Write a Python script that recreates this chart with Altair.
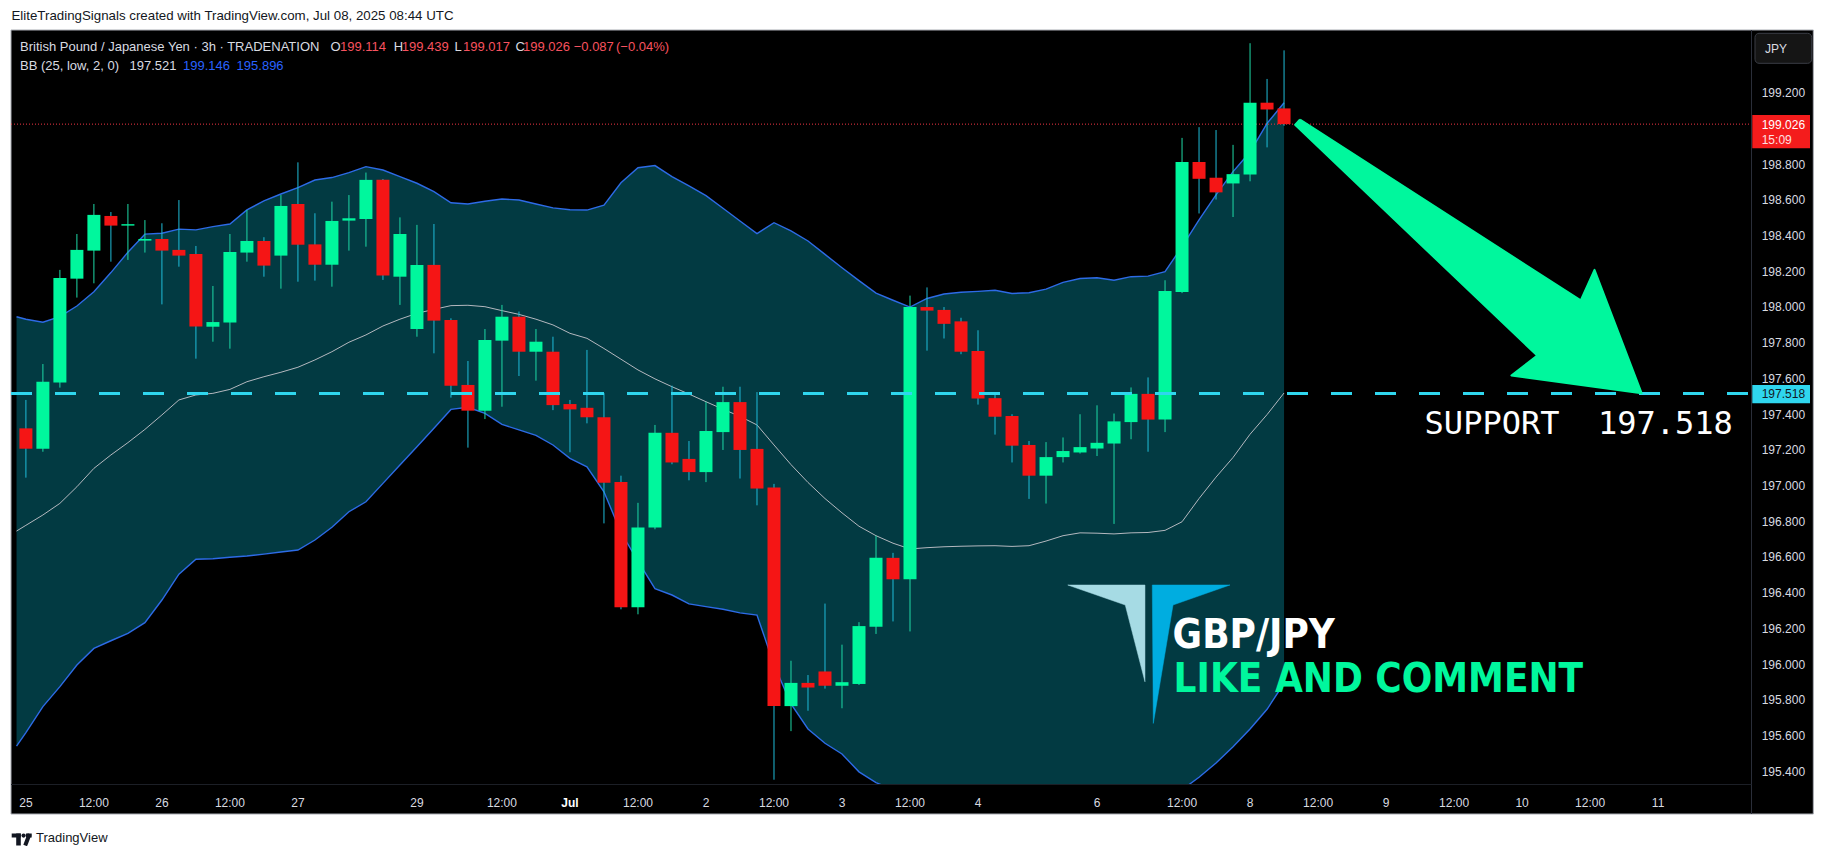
import altair as alt
import pandas as pd

# ---------------- data ----------------
bar_index = list(range(75))
opens = [197.323, 197.209, 197.579, 198.161, 198.318, 198.512, 198.458, 198.374, 198.383, 198.322,
         198.299, 197.892, 197.915, 198.307, 198.372, 198.290, 198.579, 198.353, 198.239, 198.486,
         198.495, 198.714, 198.172, 197.879, 198.238, 197.930, 197.566, 197.422, 197.814, 197.948,
         197.752, 197.752, 197.459, 197.438, 197.385, 197.022, 196.322, 196.768, 197.298, 197.152,
         197.078, 197.302, 197.470, 197.208, 196.992, 195.768, 195.898, 195.962, 195.882, 195.892,
         196.212, 196.598, 196.478, 198.002, 197.986, 197.922, 197.756, 197.492, 197.392, 197.230,
         197.058, 197.162, 197.188, 197.210, 197.238, 197.358, 197.516, 197.372, 198.086, 198.814,
         198.726, 198.694, 198.744, 199.146, 199.114]
highs = [197.482, 197.683, 198.210, 198.411, 198.579, 198.534, 198.579, 198.489, 198.471, 198.601,
         198.344, 198.120, 198.411, 198.545, 198.393, 198.629, 198.812, 198.527, 198.592, 198.629,
         198.755, 198.719, 198.504, 198.462, 198.467, 197.939, 197.700, 197.879, 198.014, 197.977,
         197.879, 197.836, 197.482, 197.762, 197.520, 197.058, 196.906, 197.342, 197.562, 197.252,
         197.472, 197.556, 197.556, 197.526, 197.012, 196.022, 195.942, 196.342, 196.112, 196.238,
         196.722, 196.626, 198.066, 198.112, 198.002, 197.942, 197.872, 197.526, 197.402, 197.252,
         197.246, 197.272, 197.402, 197.452, 197.406, 197.552, 197.608, 198.152, 198.949, 199.009,
         198.993, 198.910, 199.479, 199.279, 199.439]
lows = [197.047, 197.192, 197.551, 198.055, 198.135, 198.256, 198.266, 198.307, 198.017, 198.228,
        197.713, 197.808, 197.769, 198.256, 198.172, 198.105, 198.144, 198.150, 198.116, 198.318,
        198.340, 198.154, 198.014, 197.836, 197.743, 197.495, 197.215, 197.375, 197.444, 197.616,
        197.590, 197.425, 197.189, 197.351, 196.791, 196.310, 196.282, 196.758, 197.122, 197.032,
        197.022, 197.202, 197.042, 196.892, 195.356, 195.628, 195.742, 195.866, 195.756, 195.886,
        196.172, 196.242, 196.186, 197.758, 197.826, 197.738, 197.456, 197.288, 197.132, 196.928,
        196.902, 197.132, 197.182, 197.168, 196.788, 197.262, 197.192, 197.302, 198.080, 198.526,
        198.604, 198.506, 198.706, 198.896, 199.017]
closes = [197.209, 197.584, 198.165, 198.322, 198.518, 198.458, 198.466, 198.383, 198.318, 198.290,
          197.893, 197.918, 198.310, 198.372, 198.234, 198.568, 198.351, 198.239, 198.484, 198.499,
          198.714, 198.178, 198.411, 198.238, 197.926, 197.562, 197.422, 197.818, 197.948, 197.752,
          197.808, 197.453, 197.429, 197.385, 197.019, 196.322, 196.768, 197.298, 197.132, 197.078,
          197.308, 197.470, 197.202, 196.986, 195.768, 195.898, 195.872, 195.882, 195.902, 196.216,
          196.598, 196.478, 198.002, 197.982, 197.908, 197.752, 197.490, 197.388, 197.226, 197.058,
          197.162, 197.196, 197.218, 197.242, 197.362, 197.516, 197.372, 198.092, 198.814, 198.720,
          198.644, 198.746, 199.146, 199.108, 199.026]

band_index = [-0.55] + list(range(75))
bb_upper = [197.948, 197.934, 197.917, 197.948, 198.008, 198.088, 198.195, 198.309, 198.410, 198.415, 198.438,
            198.434, 198.452, 198.467, 198.546, 198.596, 198.635, 198.671, 198.713, 198.727, 198.755,
            198.788, 198.769, 198.732, 198.695, 198.648, 198.586, 198.579, 198.594, 198.607, 198.601,
            198.579, 198.557, 198.547, 198.545, 198.573, 198.698, 198.782, 198.794, 198.732, 198.680,
            198.626, 198.555, 198.484, 198.413, 198.474, 198.428, 198.372, 198.297, 198.222, 198.150,
            198.080, 198.040, 198.002, 198.050, 198.075, 198.085, 198.090, 198.096, 198.078, 198.082,
            198.102, 198.140, 198.162, 198.166, 198.152, 198.172, 198.175, 198.200, 198.340, 198.490,
            198.630, 198.760, 198.870, 199.030, 199.146]
bb_mid = [196.748, 196.780, 196.838, 196.903, 196.996, 197.099, 197.174, 197.243, 197.317, 197.398, 197.482,
          197.510, 197.519, 197.541, 197.584, 197.612, 197.637, 197.665, 197.706, 197.752, 197.805,
          197.846, 197.896, 197.934, 197.967, 197.989, 198.010, 198.012, 198.004, 197.982, 197.961,
          197.934, 197.902, 197.855, 197.827, 197.770, 197.710, 197.650, 197.600, 197.556, 197.515,
          197.472, 197.430, 197.390, 197.342, 197.230, 197.120, 197.020, 196.930, 196.850, 196.775,
          196.722, 196.680, 196.648, 196.655, 196.660, 196.663, 196.665, 196.666, 196.662, 196.666,
          196.692, 196.722, 196.738, 196.736, 196.732, 196.738, 196.740, 196.752, 196.800, 196.930,
          197.050, 197.160, 197.290, 197.400, 197.521]
bb_lower = [195.544, 195.620, 195.765, 195.877, 195.998, 196.091, 196.134, 196.175, 196.235, 196.362, 196.507,
            196.590, 196.593, 196.601, 196.608, 196.619, 196.631, 196.642, 196.698, 196.769, 196.856,
            196.912, 197.015, 197.118, 197.220, 197.323, 197.429, 197.441, 197.407, 197.345, 197.314,
            197.284, 197.230, 197.155, 197.108, 196.968, 196.740, 196.580, 196.426, 196.390, 196.340,
            196.325, 196.310, 196.290, 196.278, 196.000, 195.780, 195.640, 195.560, 195.500, 195.400,
            195.340, 195.300, 195.260, 195.220, 195.200, 195.180, 195.170, 195.160, 195.160, 195.170,
            195.180, 195.190, 195.200, 195.210, 195.220, 195.230, 195.250, 195.270, 195.300, 195.370,
            195.450, 195.540, 195.640, 195.750, 195.896]

last_price = 199.026
support_price = 197.518

# 199.000 is hidden behind the last-price box in the reference
price_ticks = [199.2, 198.8, 198.6, 198.4, 198.2, 198.0, 197.8, 197.6, 197.4, 197.2, 197.0,
               196.8, 196.6, 196.4, 196.2, 196.0, 195.8, 195.6, 195.4]
price_tick_labels = ["199.200", "198.800", "198.600", "198.400", "198.200", "198.000",
                     "197.800", "197.600", "197.400", "197.200", "197.000", "196.800", "196.600",
                     "196.400", "196.200", "196.000", "195.800", "195.600", "195.400"]
time_tick_index = [0, 4, 8, 12, 16, 23, 28, 36, 40, 44, 48, 52, 56, 63, 68, 72, 76, 80, 84, 88, 92, 96]
time_tick_labels = ["25", "12:00", "26", "12:00", "27", "29", "12:00", "12:00", "2", "12:00", "3",
                    "12:00", "4", "6", "12:00", "8", "12:00", "9", "12:00", "10", "12:00", "11"]
month_tick_index = [32]
month_tick_labels = ["Jul"]

# drawing annotations (bar index, price)
arrow_i = [74.94, 91.45, 92.26, 95.03, 87.37, 88.89, 74.65, 74.94]
arrow_p = [199.052, 198.039, 198.210, 197.520, 197.619, 197.730, 199.022, 199.052]
logo_left_i = [61.28, 65.82, 65.82, 64.66, 61.28]
logo_left_p = [196.446, 196.446, 195.904, 196.334, 196.446]
logo_right_i = [66.25, 70.82, 67.47, 66.31, 66.25]
logo_right_p = [196.446, 196.446, 196.334, 195.671, 196.446]

# ---------------- styling ----------------
GREEN = "#00f79d"
RED = "#f51515"
WICK_UP = "#1ed9a6"
WICK_DN = "#1fbcd8"
BB_FILL = "#023a42"
BB_BLUE = "#2d6be6"
BB_MID = "#b4b8bf"
CYAN = "#2fd6ee"
TXT = "#d9dbe0"
HDR_RED = "#f7525f"
HDR_BLUE = "#2962ff"
NBSP = "\u00a0"

W, H = 1740, 754
xs = alt.Scale(domain=[-0.582, 101.17], nice=False, zero=False)
ys = alt.Scale(domain=[195.332, 199.553], nice=False, zero=False)


def X(f):
    return alt.X(f, type="quantitative", scale=xs, axis=None)


def Y(f):
    return alt.Y(f, type="quantitative", scale=ys, axis=None)


one = pd.DataFrame({"a": [0]})


def txt(s, x, y, color, size=13, font="Liberation Sans", weight="normal", align="left", baseline="middle"):
    return alt.Chart(one).mark_text(text=s, align=align, baseline=baseline, font=font,
                                    fontSize=size, fontWeight=weight, color=color).encode(
        x=alt.value(x), y=alt.value(y))


candles = pd.DataFrame({"i": bar_index, "o": opens, "h": highs, "l": lows, "c": closes})
bands = pd.DataFrame({"i": band_index, "u": bb_upper, "m": bb_mid, "lo": bb_lower})

layers = []

# chart frame (black panel incl. axes area)
layers.append(alt.Chart(one).mark_rect(fill="#000000", stroke="#a9acb3", strokeWidth=1).encode(
    x=alt.value(0), x2=alt.value(1802.3), y=alt.value(0), y2=alt.value(784)))

# Bollinger band
layers.append(alt.Chart(bands).mark_area(color=BB_FILL, clip=True).encode(
    x=X("i"), y=Y("u"), y2="lo:Q"))
layers.append(alt.Chart(bands).mark_line(color=BB_MID, strokeWidth=1, clip=True).encode(x=X("i"), y=Y("m")))
layers.append(alt.Chart(bands).mark_line(color=BB_BLUE, strokeWidth=1.4, clip=True).encode(x=X("i"), y=Y("u")))
layers.append(alt.Chart(bands).mark_line(color=BB_BLUE, strokeWidth=1.4, clip=True).encode(x=X("i"), y=Y("lo")))

# logo
for li, lp, col in [(logo_left_i, logo_left_p, "#a6dbe4"), (logo_right_i, logo_right_p, "#00ade0")]:
    d = pd.DataFrame({"i": li, "p": lp, "k": list(range(len(li)))})
    layers.append(alt.Chart(d).mark_line(fill=col, stroke=col, strokeWidth=0.5, clip=True).encode(
        x=X("i"), y=Y("p"), order="k:Q"))

# last price dotted line
layers.append(alt.Chart(pd.DataFrame({"p": [last_price]})).mark_rule(
    color="#f23645", strokeDash=[1, 2], strokeWidth=1).encode(
    y=Y("p"), x=alt.value(0), x2=alt.value(W)))

# candles
up = "datum.c >= datum.o"
layers.append(alt.Chart(candles).mark_rule(strokeWidth=1, clip=True).encode(
    x=X("i"), y=Y("l"), y2="h:Q",
    color=alt.condition(up, alt.value(WICK_UP), alt.value(WICK_DN))))
layers.append(alt.Chart(candles).mark_bar(size=13, clip=True).encode(
    x=X("i"), y=Y("o"), y2="c:Q",
    color=alt.condition(up, alt.value(GREEN), alt.value(RED))))

# support dashed line
layers.append(alt.Chart(pd.DataFrame({"p": [support_price]})).mark_rule(
    color=CYAN, strokeDash=[21, 23], strokeWidth=3).encode(
    y=Y("p"), x=alt.value(0), x2=alt.value(W)))

# arrow
ad = pd.DataFrame({"i": arrow_i, "p": arrow_p, "k": list(range(len(arrow_i)))})
layers.append(alt.Chart(ad).mark_line(fill=GREEN, stroke=GREEN, strokeWidth=2, strokeJoin="round").encode(
    x=X("i"), y=Y("p"), order="k:Q"))

# annotation texts
layers.append(txt("SUPPORT" + NBSP + NBSP + "197.518", 1413.6, 404, "#ffffff", size=32,
                  font="DejaVu Sans Mono", baseline="alphabetic"))
layers.append(txt("GBP/JPY", 1161.6, 618, "#ffffff", size=40, font="DejaVu Sans Condensed",
                  weight="bold", baseline="alphabetic"))
layers.append(txt("LIKE AND COMMENT", 1162.6, 661.7, GREEN, size=40, font="DejaVu Sans Condensed",
                  weight="bold", baseline="alphabetic"))

# separators of axis panels
layers.append(alt.Chart(one).mark_rule(color="#2a2e39", strokeWidth=1).encode(
    x=alt.value(1740.5), y=alt.value(0), y2=alt.value(784)))
layers.append(alt.Chart(one).mark_rule(color="#1c1f26", strokeWidth=1).encode(
    y=alt.value(754.5), x=alt.value(0), x2=alt.value(1740.5)))

# price axis labels
pt = pd.DataFrame({"p": price_ticks, "lbl": price_tick_labels})
layers.append(alt.Chart(pt).mark_text(align="left", baseline="middle", font="Liberation Sans",
                                      fontSize=12, color=TXT).encode(
    y=Y("p"), x=alt.value(1750.7), text="lbl:N"))

# time axis labels
tt = pd.DataFrame({"i": time_tick_index, "lbl": time_tick_labels})
layers.append(alt.Chart(tt).mark_text(align="center", baseline="middle", font="Liberation Sans",
                                      fontSize=12, color=TXT).encode(
    x=X("i"), y=alt.value(772.7), text="lbl:N"))
mt = pd.DataFrame({"i": month_tick_index, "lbl": month_tick_labels})
layers.append(alt.Chart(mt).mark_text(align="center", baseline="middle", font="Liberation Sans",
                                      fontSize=12, fontWeight="bold", color="#ffffff").encode(
    x=X("i"), y=alt.value(772.7), text="lbl:N"))

# last price label box
lp = pd.DataFrame({"p": [last_price]})
layers.append(alt.Chart(lp).mark_rect(color="#f41c1c", yOffset=-9.2, y2Offset=24.1).encode(
    y=Y("p"), y2="p:Q", x=alt.value(1741.3), x2=alt.value(1799)))
layers.append(alt.Chart(lp).mark_text(text="199.026", align="left", baseline="middle",
                                      font="Liberation Sans", fontSize=12, color="#ffffff", dy=0.5).encode(
    y=Y("p"), x=alt.value(1750.7)))
layers.append(alt.Chart(lp).mark_text(text="15:09", align="left", baseline="middle",
                                      font="Liberation Sans", fontSize=12, color="#ffe0e0", dy=15.5).encode(
    y=Y("p"), x=alt.value(1750.7)))

# support label box
sp = pd.DataFrame({"p": [support_price]})
layers.append(alt.Chart(sp).mark_rect(color=CYAN, yOffset=-8.5, y2Offset=9.8).encode(
    y=Y("p"), y2="p:Q", x=alt.value(1741.3), x2=alt.value(1799)))
layers.append(alt.Chart(sp).mark_text(text="197.518", align="left", baseline="middle",
                                      font="Liberation Sans", fontSize=12, color="#131722", dy=0.5).encode(
    y=Y("p"), x=alt.value(1750.7)))

# currency box
layers.append(alt.Chart(one).mark_rect(fill="#151515", stroke="#3a3d45", strokeWidth=1, cornerRadius=4).encode(
    x=alt.value(1744), x2=alt.value(1800.7), y=alt.value(3.3), y2=alt.value(33.3)))
layers.append(txt("JPY", 1754, 18.5, TXT, size=12))

# header texts
layers.append(txt("EliteTradingSignals created with TradingView.com, Jul 08, 2025 08:44 UTC", 0.5, -14,
                  "#131722", size=13.3))
layers.append(txt("British Pound / Japanese Yen · 3h · TRADENATION", 9, 16.7, TXT))
for s, x, c in [("O", 319.4, TXT), ("199.114", 329, HDR_RED), ("H", 382.8, TXT), ("199.439", 390.8, HDR_RED),
                ("L", 443.5, TXT), ("199.017", 452, HDR_RED), ("C", 504.6, TXT), ("199.026", 512, HDR_RED),
                ("−0.087", 562.7, HDR_RED), ("(−0.04%)", 605, HDR_RED)]:
    layers.append(txt(s, x, 16.7, c))
for s, x, c in [("BB (25, low, 2, 0)", 9, TXT), ("197.521", 118.5, TXT), ("199.146", 172, HDR_BLUE),
                ("195.896", 225.6, HDR_BLUE)]:
    layers.append(txt(s, x, 35.7, c))

# TradingView footer
layers.append(alt.Chart(one).mark_rect(color="#131722").encode(
    x=alt.value(0.7), x2=alt.value(9.8), y=alt.value(803.5), y2=alt.value(807.5)))
layers.append(alt.Chart(one).mark_rect(color="#131722").encode(
    x=alt.value(5.2), x2=alt.value(9.8), y=alt.value(803.5), y2=alt.value(815.5)))
layers.append(alt.Chart(one).mark_point(filled=True, size=18, color="#131722", opacity=1).encode(
    x=alt.value(12.6), y=alt.value(805.6)))
layers.append(alt.Chart(one).mark_rect(color="#131722").encode(
    x=alt.value(15), x2=alt.value(20.7), y=alt.value(803.5), y2=alt.value(807.5)))
layers.append(alt.Chart(one).mark_rule(color="#131722", strokeWidth=4).encode(
    x=alt.value(18.6), x2=alt.value(14.2), y=alt.value(804), y2=alt.value(815.5)))
layers.append(txt("TradingView", 25, 812, "#131722", size=13, baseline="alphabetic"))

chart = alt.layer(*layers).properties(
    width=W, height=H,
    autosize=alt.AutoSizeParams(type="none"),
    padding={"left": 3, "top": 22, "right": 66, "bottom": 62},
    background="#ffffff",
).configure_view(stroke=None)

chart.save("out.html", embed_options={"renderer": "svg", "actions": False})
